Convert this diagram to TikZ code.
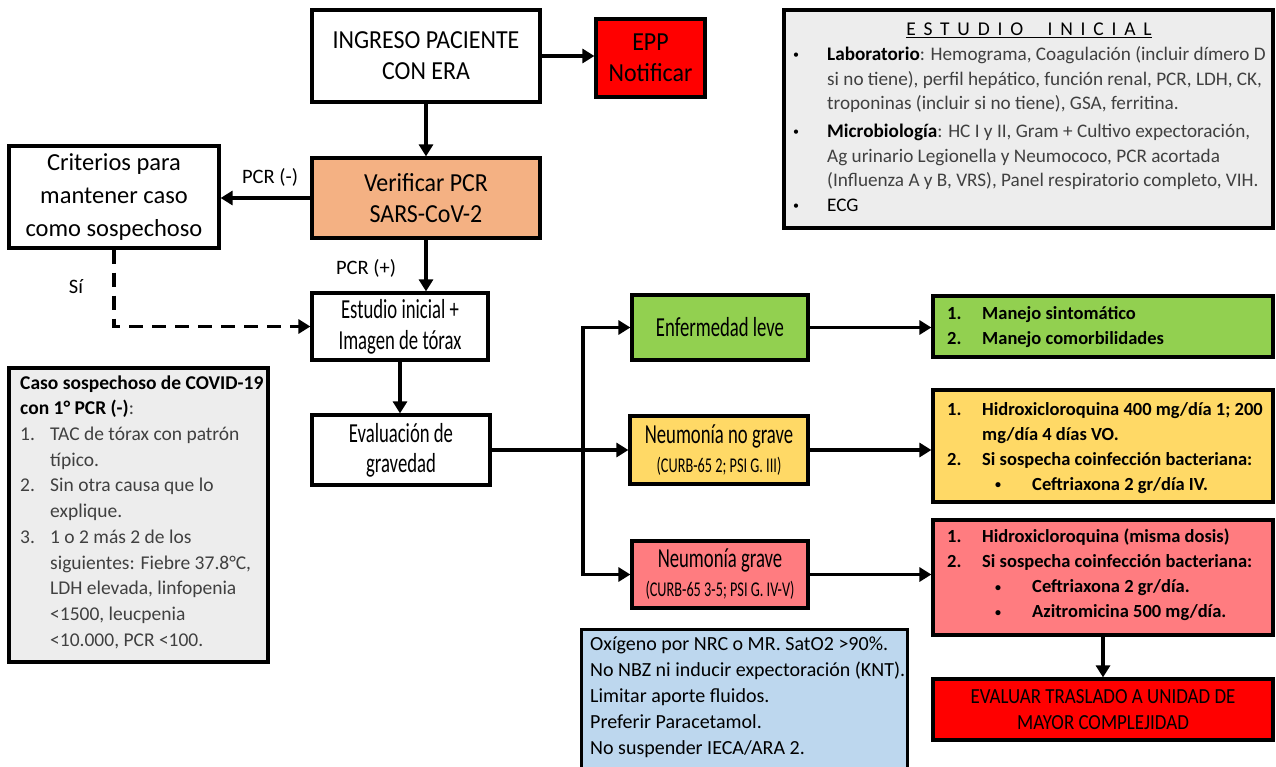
\documentclass[tikz,border=0pt]{standalone}
\usepackage{fontspec}
\setmainfont{Carlito}
\newfontfamily\fA[FakeStretch=0.92]{Carlito}
\newfontfamily\fB[FakeStretch=0.68]{Carlito}
\newfontfamily\fC[FakeStretch=0.88]{Carlito}
\newfontfamily\ftitle[LetterSpace=40]{Carlito}
\usetikzlibrary{arrows.meta}
\definecolor{cRed}{HTML}{FF0000}
\definecolor{cOrange}{HTML}{F4B183}
\definecolor{cGreen}{HTML}{92D050}
\definecolor{cYellow}{HTML}{FFD966}
\definecolor{cPink}{HTML}{FF7C80}
\definecolor{cBlue}{HTML}{BDD7EE}
\definecolor{cGray}{HTML}{EDEDED}
\definecolor{cTxt}{HTML}{404040}
\newcommand\smallbul{\raisebox{1.8pt}{\fontsize{12}{12}\selectfont •}}
\newcommand\bul{\makebox[34pt][l]{\textcolor{black}{\smallbul}}}
\newcommand\ind{\hspace*{34pt}}
\newcommand\numit[1]{\makebox[35pt][l]{#1}}
\newcommand\subbul{\hspace*{48pt}\makebox[37pt][l]{\smallbul}}
\newcommand\cnum[1]{\makebox[30pt][l]{#1}}
\newcommand\cind{\hspace*{30pt}}
\begin{document}
\begin{tikzpicture}[x=1pt,y=-1pt,
  box/.style={draw=black, line width=3.2pt, inner sep=0pt, align=center},
  arr/.style={line width=3.2pt, -{Triangle[length=12pt,width=14pt]}},
  lbl/.style={inner sep=0pt, font=\fontsize{20.5}{24}\selectfont},
  txt/.style={inner sep=0pt, align=left, anchor=west},
  big/.style={font=\fA\fontsize{26}{31}\selectfont},
  mid/.style={font=\fB\fontsize{27.5}{31}\selectfont},
  rtxt/.style={txt, font=\bfseries\fontsize{18.5}{25}\selectfont}
  ]
\clip (0,0) rectangle (1276,766);
\fill[white] (0,0) rectangle (1276,766);

% left / centre column
\node[box, big, minimum width=228pt, minimum height=92pt] (ingreso) at (426,56) {INGRESO PACIENTE\\CON ERA};
\node[box, big, fill=cRed, minimum width=109pt, minimum height=78pt] (epp) at (650.5,58) {EPP\\Notificar};
\node[box, big, fill=cOrange, minimum width=228pt, minimum height=80pt] (verif) at (426,198) {Verificar PCR\\SARS-CoV-2};
\node[box, font=\fontsize{24.5}{33}\selectfont, minimum width=210pt, minimum height=102pt] (crit) at (114,197) {Criterios para\\mantener caso\\como sospechoso};
\node[box, mid, minimum width=176pt, minimum height=67pt] (estudio) at (400,326.5) {Estudio inicial +\\Imagen de tórax};
\node[box, font=\fB\fontsize{27.5}{30}\selectfont, minimum width=178pt, minimum height=70pt] (evalua) at (401,450) {Evaluación de\\gravedad};

% severity boxes
\node[box, mid, fill=cGreen, minimum width=176pt, minimum height=65pt] (leve) at (720,327.5) {Enfermedad leve};
\node[box, font=\fB\fontsize{27.5}{29}\selectfont, fill=cYellow, minimum width=178pt, minimum height=68pt] (nograve) at (719,450) {Neumonía no grave\\{\fontsize{21}{29}\selectfont (CURB-65 2; PSI G. III)}};
\node[box, font=\fB\fontsize{27.5}{29}\selectfont, fill=cPink, minimum width=176pt, minimum height=67pt] (grave) at (720,574.5) {Neumonía grave\\{\fontsize{21}{29}\selectfont (CURB-65 3-5; PSI G. IV-V)}};

% treatment boxes
\node[box, fill=cGreen, minimum width=340pt, minimum height=61pt] (r1) at (1103,326.5) {};
\node[rtxt] (r1t) at (947,327) {\numit{1.}Manejo sintomático\\\numit{2.}Manejo comorbilidades};
\node[box, fill=cYellow, minimum width=340pt, minimum height=112pt] (r2) at (1103,446) {};
\node[rtxt] (r2t) at (947,448) {\numit{1.}Hidroxicloroquina 400 mg/día 1; 200\\\hspace*{35pt}mg/día 4 días VO.\\\numit{2.}Si sospecha coinfección bacteriana:\\\subbul Ceftriaxona 2 gr/día IV.};
\node[box, fill=cPink, minimum width=340pt, minimum height=115pt] (r3) at (1103,577.5) {};
\node[rtxt] (r3t) at (947,575) {\numit{1.}Hidroxicloroquina (misma dosis)\\\numit{2.}Si sospecha coinfección bacteriana:\\\subbul Ceftriaxona 2 gr/día.\\\subbul Azitromicina 500 mg/día.};
\node[box, fill=cRed, font=\fC\fontsize{21.5}{26}\selectfont, minimum width=340pt, minimum height=61pt] (r4) at (1103,709.5) {EVALUAR TRASLADO A UNIDAD DE\\MAYOR COMPLEJIDAD};

% info boxes
\node[box, fill=cGray, minimum width=489pt, minimum height=218pt] (inibox) at (1028.5,119) {};
\node[inner sep=0pt, font=\fontsize{19.5}{24}\selectfont, text=black] (initit) at (1029,30) {\underline{\ftitle ESTUDIO\ \ INICIAL}};
\node[txt, text=cTxt, font=\fontsize{19.2}{24.6}\selectfont] (initxt) at (793,129) {%
\bul\textcolor{black}{\textbf{Laboratorio}}: Hemograma, Coagulación (incluir dímero D\\
\ind si no tiene), perfil hepático, función renal, PCR, LDH, CK,\\
\ind troponinas (incluir si no tiene), GSA, ferritina.\\[3pt]
\bul\textcolor{black}{\textbf{Microbiología}}: HC I y II, Gram + Cultivo expectoración,\\
\ind Ag urinario Legionella y Neumococo, PCR acortada\\
\ind (Influenza A y B, VRS), Panel respiratorio completo, VIH.\\
\bul\textcolor{black}{ECG}};

\node[box, fill=cGray, minimum width=259pt, minimum height=294pt] (casobox) at (138.5,515) {};
\node[txt, text=cTxt, font=\fontsize{19.5}{25.7}\selectfont] (casotxt) at (20,512) {%
\textcolor{black}{\textbf{Caso sospechoso de COVID-19}}\\
\textcolor{black}{\textbf{con 1° PCR (-)}}:\\
\cnum{1.}TAC de tórax con patrón\\
\cind típico.\\
\cnum{2.}Sin otra causa que lo\\
\cind explique.\\
\cnum{3.}1 o 2 más 2 de los\\
\cind siguientes: Fiebre 37.8°C,\\
\cind LDH elevada, linfopenia\\
\cind <1500, leucpenia\\
\cind <10.000, PCR <100.};

\node[box, fill=cBlue, minimum width=326pt, minimum height=170pt, anchor=north west] (recom) at (580,628) {};
\node[txt, font=\fontsize{20}{26}\selectfont] (recomtxt) at (590,697) {%
Oxígeno por NRC o MR. SatO2 >90\%.\\
No NBZ ni inducir expectoración (KNT).\\
Limitar aporte fluidos.\\
Preferir Paracetamol.\\
No suspender IECA/ARA 2.};

% labels
\node[lbl] (pcrneg) at (270,177) {PCR (-)};
\node[lbl] (pcrpos) at (366,268) {PCR (+)};
\node[lbl] (si) at (76,287) {Sí};

% connectors
\draw[arr] (ingreso.east) -- (ingreso.east -| epp.west);
\draw[arr] (ingreso) -- (verif);
\draw[arr] (verif.west) -- (verif.west -| crit.east);
\draw[arr] (verif.south) -- (verif.south |- estudio.north);
\draw[arr, dash pattern=on 14pt off 9pt] (crit.south) |- (estudio.west);
\draw[arr] (estudio.south) -- (estudio.south |- evalua.north);
\draw[arr] (evalua.east) -- (evalua.east -| nograve.west);
\coordinate (br) at (583,450);
\draw[arr] (br) |- (leve.west);
\draw[arr] (br) |- (grave.west);
\draw[arr] (leve.east) -- (leve.east -| r1.west);
\draw[arr] (nograve.east) -- (nograve.east -| r2.west);
\draw[arr] (grave.east) -- (grave.east -| r3.west);
\draw[arr] (r3.south) -- (r3.south |- r4.north);
\end{tikzpicture}
\end{document}
